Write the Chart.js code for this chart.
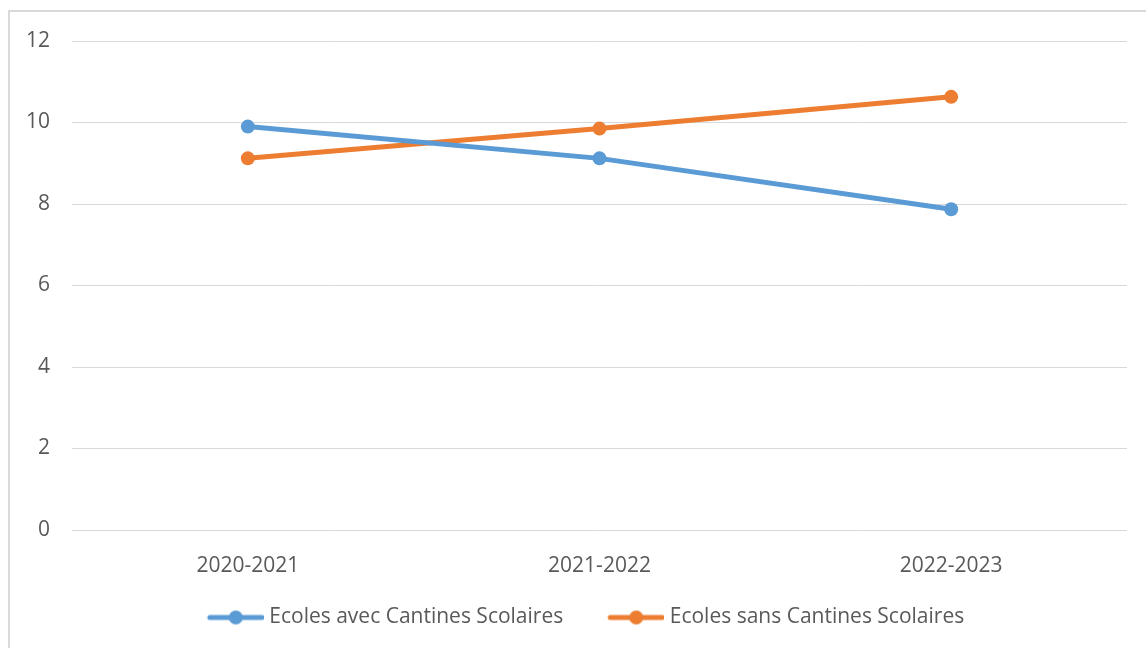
<!DOCTYPE html>
<html>
<head>
<meta charset="utf-8">
<script src="https://cdn.jsdelivr.net/npm/chart.js@4"></script>
<style>
  html, body { margin: 0; padding: 0; background: #fff; overflow: hidden; }
  #frame { position: absolute; left: 8px; top: 10px; width: 1200px; height: 700px; border: 2px solid #d9d9d9; box-sizing: border-box; }
  #wrap { position: absolute; left: 0; top: 0; width: 1146px; height: 648px; }
</style>
</head>
<body>
<div id="frame"></div>
<div id="wrap"><canvas id="c" width="1146" height="648"></canvas></div>
<script>
const categories = ['2020-2021', '2021-2022', '2022-2023'];
const seriesNames = ['Ecoles avec Cantines Scolaires', 'Ecoles sans Cantines Scolaires'];
const avecCantines = [9.9, 9.12, 7.87];
const sansCantines = [9.12, 9.85, 10.63];
const yTicks = [0, 2, 4, 6, 8, 10, 12];
const colors = ['#5B9BD5', '#ED7D31'];

const FONT = "'Open Sans', 'Liberation Sans', sans-serif";
const TEXT = '#595959';

function legendMarker(color) {
  const cv = document.createElement('canvas');
  cv.width = 96; cv.height = 18;
  const g = cv.getContext('2d');
  g.strokeStyle = color; g.lineWidth = 5; g.lineCap = 'round';
  g.beginPath(); g.moveTo(42, 9); g.lineTo(94, 9); g.stroke();
  g.fillStyle = color;
  g.beginPath(); g.arc(68, 9, 7, 0, Math.PI * 2); g.fill();
  return cv;
}

const markers = colors.map(legendMarker);

new Chart(document.getElementById('c'), {
  type: 'line',
  data: {
    labels: categories,
    datasets: [
      { label: seriesNames[0], data: avecCantines, borderColor: colors[0], backgroundColor: colors[0],
        borderWidth: 5, pointRadius: 7, pointHoverRadius: 7, pointBorderWidth: 0, tension: 0 },
      { label: seriesNames[1], data: sansCantines, borderColor: colors[1], backgroundColor: colors[1],
        borderWidth: 5, pointRadius: 7, pointHoverRadius: 7, pointBorderWidth: 0, tension: 0 }
    ]
  },
  options: {
    responsive: false,
    animation: false,
    layout: { padding: { top: 41, right: 19, bottom: 10, left: 10 } },
    plugins: {
      tooltip: { enabled: false },
      legend: {
        position: 'bottom',
        labels: {
          usePointStyle: true,
          pointStyleWidth: 86,
          padding: 10,
          color: TEXT,
          font: { family: FONT, size: 21 },
          generateLabels: (chart) => chart.data.datasets.map((ds, i) => ({
            text: ds.label,
            fillStyle: colors[i],
            strokeStyle: colors[i],
            lineWidth: 0,
            pointStyle: markers[i],
            datasetIndex: i,
            hidden: false,
            fontColor: TEXT
          }))
        }
      }
    },
    scales: {
      x: {
        offset: true,
        grid: { display: false, drawTicks: false },
        border: { display: false },
        ticks: { color: TEXT, font: { family: FONT, size: 21 }, padding: 23 },
        afterFit: (s) => { s.height = 67; }
      },
      y: {
        min: 0, max: 12,
        afterBuildTicks: (s) => { s.ticks = yTicks.map(v => ({ value: v })); },
        grid: { color: '#d9d9d9', lineWidth: 1, drawTicks: false },
        border: { display: false },
        ticks: { color: TEXT, font: { family: FONT, size: 21 }, padding: 22 },
        afterFit: (s) => { s.width = 62; }
      }
    }
  }
});
</script>
</body>
</html>
